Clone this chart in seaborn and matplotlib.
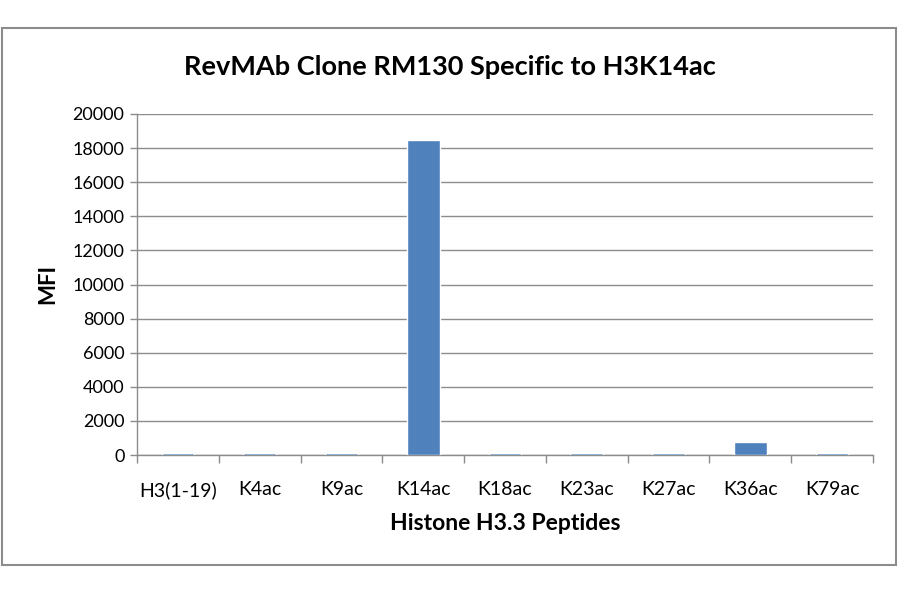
import matplotlib
matplotlib.use("Agg")
import matplotlib.pyplot as plt
import matplotlib.patches as mpatches
import seaborn as sns
import pandas as pd
import numpy as np

# values
peptides = ["H3(1-19)", "K4ac", "K9ac", "K14ac", "K18ac", "K23ac", "K27ac", "K36ac", "K79ac"]
mfi      = [100, 100, 100, 18480, 100, 100, 100, 790, 100]
y_ticks  = [0, 2000, 4000, 6000, 8000, 10000, 12000, 14000, 16000, 18000, 20000]

BAR_COLOR = "#4F81BD"
GRID_COLOR = "#8C8C8C"

sns.set_theme(style="white")
plt.rcParams["font.family"] = ["Lato", "DejaVu Sans"]
plt.rcParams["text.color"] = "black"
plt.rcParams["axes.labelcolor"] = "black"
plt.rcParams["xtick.color"] = "black"
plt.rcParams["ytick.color"] = "black"
plt.rcParams["xtick.bottom"] = True
plt.rcParams["ytick.left"] = True

df = pd.DataFrame({"peptide": peptides, "mfi": mfi})

fig = plt.figure(figsize=(9, 5.94), dpi=100)
ax = fig.add_axes([137 / 900, 1 - 455 / 594, (873 - 137) / 900, (455 - 114) / 594])

sns.barplot(data=df, x="peptide", y="mfi", color=BAR_COLOR, width=0.4,
            saturation=1, ax=ax, zorder=3)

ax.set_ylim(0, 20000)
ax.set_xlim(-0.5, len(peptides) - 0.5)
ax.set_yticks(y_ticks)
ax.set_yticklabels([str(v) for v in y_ticks], fontsize=13)
ax.tick_params(axis="x", which="major", labelsize=14, length=0, pad=19)
ax.tick_params(axis="y", length=5, width=1, color=GRID_COLOR, direction="out", pad=4)
ax.set_xticks(np.arange(-0.5, len(peptides), 1.0), minor=True)
ax.tick_params(axis="x", which="minor", length=6, width=1, color=GRID_COLOR, direction="out")

ax.yaxis.grid(True, color=GRID_COLOR, linewidth=1, zorder=0)
ax.set_axisbelow(True)
for side in ["top", "right"]:
    ax.spines[side].set_visible(False)
for side in ["left", "bottom"]:
    ax.spines[side].set_color(GRID_COLOR)
    ax.spines[side].set_linewidth(1)

ax.set_xlabel("Histone H3.3 Peptides", fontsize=16.5, fontweight="bold", labelpad=10)
ax.set_ylabel("MFI", fontsize=16, fontweight="bold", labelpad=10)

fig.text(450 / 900, 1 - 67 / 594, "RevMAb Clone RM130 Specific to H3K14ac",
         ha="center", va="center", fontsize=19.5, fontweight="bold")

# outer chart frame, like the Excel chart border
frame = mpatches.Rectangle((2 / 900, 1 - 565 / 594), 894 / 900, 537 / 594,
                           transform=fig.transFigure, fill=False,
                           edgecolor="#8C8C8C", linewidth=1.5)
fig.patches.append(frame)

fig.savefig("out.png", dpi=100)
plt.close(fig)
